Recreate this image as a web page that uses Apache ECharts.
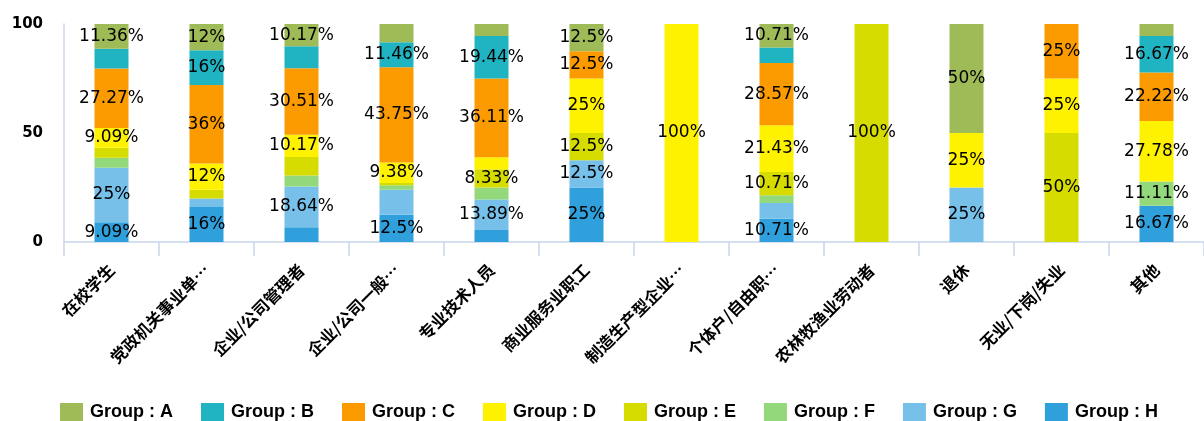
<!DOCTYPE html>
<html>
<head>
<meta charset="utf-8">
<script src="https://cdn.jsdelivr.net/npm/echarts@6/dist/echarts.min.js"></script>
<style>
  html, body { margin: 0; padding: 0; background: #ffffff; }
  #chart { width: 1204px; height: 421px; }
</style>
</head>
<body>
<div id="chart"></div>
<script>
// Occupation categories (x axis)
const categories = [
  '在校学生', '党政机关事业单…', '企业/公司管理者', '企业/公司一般…',
  '专业技术人员', '商业服务业职工', '制造生产型企业…', '个体户/自由职…',
  '农林牧渔业劳动者', '退休', '无业/下岗/失业', '其他'
];

// Share of each group within a category, in percent
const groupA = [11.36, 12, 10.17, 8.33, 5.56, 12.5, 0, 10.71, 0, 50, 0, 5.56];
const groupB = [9.09, 16, 10.17, 11.46, 19.44, 0, 0, 7.14, 0, 0, 0, 16.67];
const groupC = [27.27, 36, 30.51, 43.75, 36.11, 12.5, 0, 28.57, 0, 0, 25, 22.22];
const groupD = [9.09, 12, 10.17, 9.38, 5.56, 25, 100, 21.43, 0, 25, 25, 27.78];
const groupE = [4.55, 4, 8.47, 1.04, 8.33, 12.5, 0, 10.71, 100, 0, 50, 0];
const groupF = [4.55, 0, 5.08, 2.08, 5.56, 0, 0, 3.57, 0, 0, 0, 11.11];
const groupG = [25, 4, 18.64, 11.46, 13.89, 12.5, 0, 7.14, 0, 25, 0, 0];
const groupH = [9.09, 16, 6.78, 12.5, 5.56, 25, 0, 10.71, 0, 0, 0, 16.67];

// Category indices whose segment carries no value label
const unlabeledA = [3, 4, 11];
const unlabeledB = [0, 2, 7];
const unlabeledC = [];
const unlabeledD = [4];
const unlabeledE = [0, 1, 2, 3];
const unlabeledF = [0, 2, 3, 4, 7];
const unlabeledG = [1, 3, 7];
const unlabeledH = [2, 4];

// Y axis ticks
const yMin = 0;
const yMax = 100;
const yStep = 50;

const groups = [
  { name: 'Group : A', values: groupA, quiet: unlabeledA, color: '#9fbb58' },
  { name: 'Group : B', values: groupB, quiet: unlabeledB, color: '#20b4c3' },
  { name: 'Group : C', values: groupC, quiet: unlabeledC, color: '#fb9b00' },
  { name: 'Group : D', values: groupD, quiet: unlabeledD, color: '#fff200' },
  { name: 'Group : E', values: groupE, quiet: unlabeledE, color: '#d7dc00' },
  { name: 'Group : F', values: groupF, quiet: unlabeledF, color: '#93d97c' },
  { name: 'Group : G', values: groupG, quiet: unlabeledG, color: '#76c0ea' },
  { name: 'Group : H', values: groupH, quiet: unlabeledH, color: '#2fa0db' }
];

const axisBlue = '#c8d6e9';

// Stack from the bottom: H first, A on top
const series = groups.slice().reverse().map(g => ({
  name: g.name,
  type: 'bar',
  stack: 'share',
  barWidth: 34,
  itemStyle: { color: g.color },
  label: {
    show: true,
    position: 'inside',
    color: '#000000',
    fontFamily: 'DejaVu Sans',
    fontSize: 17,
    formatter: p => (p.value > 0 && g.quiet.indexOf(p.dataIndex) < 0) ? p.value + '%' : ''
  },
  data: g.values.slice()
}));

const chart = echarts.init(document.getElementById('chart'), null, { renderer: 'canvas' });
chart.setOption({
  animation: false,
  backgroundColor: '#ffffff',
  grid: { left: 64, top: 24, width: 1143, height: 218, containLabel: false },
  legend: {
    data: groups.map(g => g.name),
    left: 60,
    top: 403,
    padding: 0,
    itemWidth: 23,
    itemHeight: 18,
    itemGap: 28,
    icon: 'rect',
    textStyle: {
      fontFamily: 'Liberation Sans',
      fontWeight: 'bold',
      fontSize: 18,
      color: '#000000',
      padding: [0, 0, 0, 2]
    }
  },
  xAxis: {
    type: 'category',
    data: categories,
    axisLine: { show: true, lineStyle: { color: axisBlue, width: 1.5 } },
    axisTick: { show: true, length: 14, alignWithLabel: false, lineStyle: { color: axisBlue, width: 1.5 } },
    axisLabel: {
      interval: 0,
      rotate: 45,
      margin: 25,
      color: '#000000',
      fontFamily: 'Noto Sans CJK SC',
      fontWeight: 'bold',
      fontSize: 16.5
    }
  },
  yAxis: {
    type: 'value',
    min: yMin,
    max: yMax,
    interval: yStep,
    axisLine: { show: true, lineStyle: { color: axisBlue, width: 1.5 } },
    axisTick: { show: false },
    splitLine: { show: false },
    axisLabel: {
      margin: 21,
      color: '#000000',
      fontFamily: 'DejaVu Sans',
      fontWeight: 'bold',
      fontSize: 15,
      padding: [0, 0, 7, 0]
    }
  },
  series: series
});
</script>
</body>
</html>
